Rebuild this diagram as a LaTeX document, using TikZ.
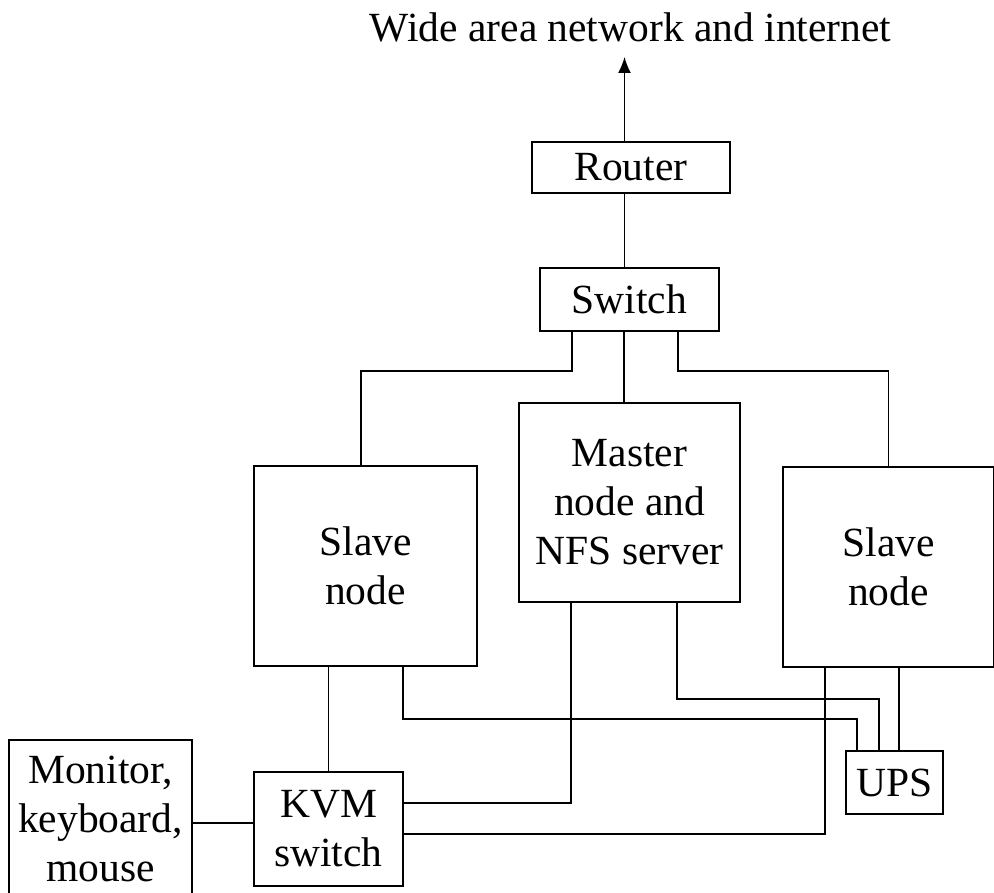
\documentclass[tikz,border=0pt]{standalone}
\usepackage{fontspec}
\setmainfont{Liberation Serif}
\usetikzlibrary{arrows.meta}
\tikzset{
    %Define style for boxes
    box/.style={
           rectangle,
           draw=black, line width=1.5pt,
           inner sep=0pt, outer sep=0pt,
           align=center},
    % Define wire style
    wire/.style={
           line width=1.5pt}
}

\begin{document}
\begin{tikzpicture}[x=1pt, y=-1pt, font=\fontsize{41.5}{49}\selectfont]
  \useasboundingbox (0,0) rectangle (994,893);

  \node[anchor=base] (wan) at (630.5,42) {Wide area network and internet};
  \coordinate (up) at (624.5,57);

  \node[box, minimum width=198pt, minimum height=51pt] (router) at (631,167.5) {Router};
  \node[box, minimum width=179pt, minimum height=63pt] (switch) at (629.5,299.5) {Switch};

  \node[box, minimum width=223pt, minimum height=200pt] (slaveL) at (365.5,566) {Slave\\node};
  \node[box, minimum width=221pt, minimum height=199pt] (master) at (629.5,502.5) {Master\\node and\\NFS server};
  \node[box, minimum width=211pt, minimum height=200pt] (slaveR) at (888.5,567) {Slave\\node};

  \node[box, minimum width=183pt, minimum height=157pt] (monitor) at (100.5,818.5) {Monitor,\\keyboard,\\mouse};
  \node[box, minimum width=149pt, minimum height=114pt] (kvm) at (328.5,829) {KVM\\switch};
  \node[box, minimum width=97pt, minimum height=63pt] (ups) at (894.5,782.5) {UPS};

  % network
  \draw[wire, -{Latex[length=16pt, width=13pt]}] ([xshift=-6.5pt]router.north) -- (up);
  \draw[wire] ([xshift=-6.5pt]router.south) -- ([xshift=-6.5pt]router.south |- switch.north);
  \draw[wire] ([xshift=-57.5pt]switch.south) -- ++(0,40) -| ([xshift=-4.5pt]slaveL.north);
  \draw[wire] ([xshift=-5.5pt]switch.south) -- ([xshift=-5.5pt]master.north);
  \draw[wire] ([xshift=48.5pt]switch.south) -- ++(0,40) -| (slaveR.north);

  % KVM lines
  \draw[wire] (slaveL.south -| kvm.north) -- (kvm.north);
  \draw[wire] ([xshift=-58.5pt]master.south) |- ([yshift=26pt]kvm.east);
  \draw[wire] ([xshift=-63.5pt]slaveR.south) |- ([yshift=-5pt]kvm.east);
  \draw[wire] ([yshift=6pt]kvm.west) -- ([yshift=6pt]kvm.west -| monitor.east);

  % power lines
  \draw[wire] ([xshift=37.5pt]slaveL.south) -- ++(0,53) -| ([xshift=-37.5pt]ups.north);
  \draw[wire] ([xshift=47.5pt]master.south) -- ++(0,97) -| ([xshift=-15.5pt]ups.north);
  \draw[wire] ([xshift=10.5pt]slaveR.south) -- ([xshift=10.5pt]slaveR.south |- ups.north);
\end{tikzpicture}
\end{document}
